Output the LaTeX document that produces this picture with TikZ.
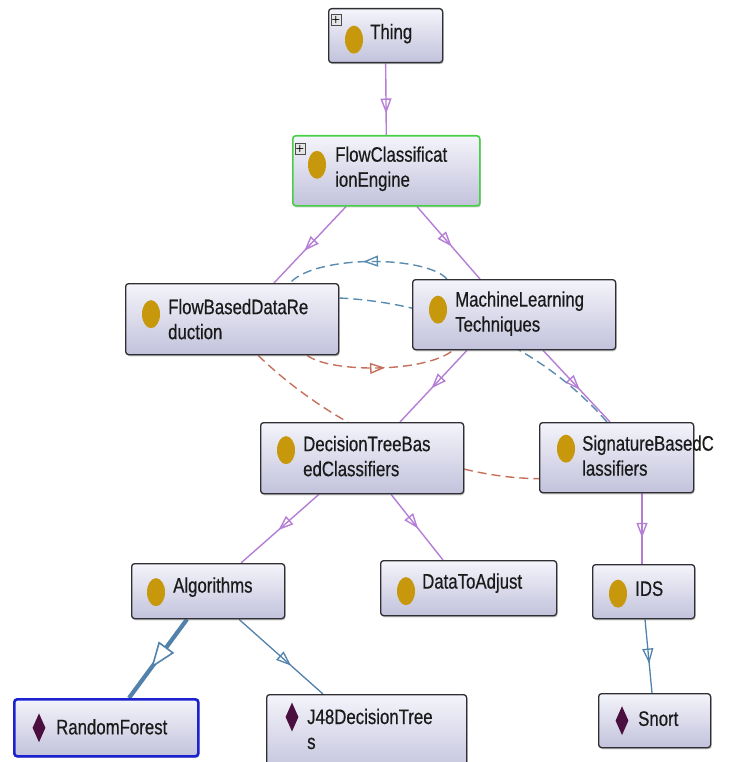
\documentclass[tikz,border=0pt]{standalone}
\usepackage{fontspec}
\newfontfamily\ogfont[FakeStretch=0.8, FakeBold=0.5]{Liberation Sans}
\usetikzlibrary{arrows.meta,decorations.markings,shadows,calc,backgrounds,shapes.geometric}

\definecolor{boxline}{HTML}{2E2E33}
\definecolor{boxtop}{HTML}{F4F4FB}
\definecolor{boxbot}{HTML}{C2C2DC}
\definecolor{gold}{HTML}{C8980C}
\definecolor{diac}{HTML}{4A0F3E}
\definecolor{txtc}{HTML}{1A1A1A}
\definecolor{isac}{HTML}{B47ED6}
\definecolor{instc}{HTML}{5282AC}
\definecolor{propblue}{HTML}{5A8CB0}
\definecolor{propred}{HTML}{C4705C}
\definecolor{selgreen}{HTML}{46D046}
\definecolor{selblue}{HTML}{1C22D0}

\tikzset{
  cls/.style={draw=boxline, line width=1.3pt, rounded corners=3pt,
    top color=boxtop, bottom color=boxbot, anchor=north west, inner sep=0pt,
    drop shadow={shadow xshift=1pt, shadow yshift=-1.6pt, opacity=0.45}},
  lbl/.style={anchor=west, font=\ogfont\fontsize{21}{25}\selectfont,
    text=txtc, align=left, inner sep=0pt},
  dot/.style={ellipse, fill=gold, minimum width=18pt, minimum height=28pt, inner sep=0pt},
  dia/.style={diamond, fill=diac, minimum width=13pt, minimum height=29pt, inner sep=0pt},
  plusbox/.style={draw=gray!60!black, fill=gray!20, minimum width=10pt,
    minimum height=11pt, inner sep=0pt, font=\sffamily\bfseries\fontsize{10}{10}\selectfont},
  tipmark/.style={postaction={decorate}, decoration={markings,
    mark=at position #1 with {\arrow{Triangle[open, length=15pt, width=11pt]}}}},
  isa/.style={draw=isac, line width=1.4pt, tipmark={#1}},
  isa/.default=0.55,
  inst/.style={draw=instc, line width=1.3pt, tipmark={#1}},
  inst/.default=0.6,
  bigtip/.style={postaction={decorate}, decoration={markings,
    mark=at position #1 with {\arrow[line width=1.6pt]{Triangle[fill=white, length=26pt, width=19pt]}}}},
  prop/.style={line width=1.4pt, dash pattern=on 9pt off 5pt},
}

\begin{document}
\begin{tikzpicture}[x=1pt,y=-1pt]
\clip (0,0) rectangle (735,762);

% ---- class boxes ----
\node[cls, minimum width=114pt, minimum height=54pt] (thing) at (328,8) {};
\node[cls, draw=selgreen, line width=1.6pt, minimum width=187pt, minimum height=70pt] (fce) at (292,135) {};
\node[cls, minimum width=213pt, minimum height=71pt] (fbdr) at (125,283) {};
\node[cls, minimum width=203pt, minimum height=70pt] (mlt) at (412,279) {};
\node[cls, minimum width=203pt, minimum height=71pt] (dtb) at (260,422) {};
\node[cls, minimum width=154pt, minimum height=70pt] (sig) at (539,422) {};
\node[cls, minimum width=153pt, minimum height=55pt] (alg) at (131,563) {};
\node[cls, minimum width=176pt, minimum height=55pt] (data) at (380,560) {};
\node[cls, minimum width=102pt, minimum height=54pt] (ids) at (592,564) {};
\node[cls, draw=selblue, line width=2.6pt, minimum width=184pt, minimum height=57pt] (rf) at (13,698) {};
\node[cls, minimum width=200pt, minimum height=80pt] (j48) at (266,694) {};
\node[cls, minimum width=112pt, minimum height=54pt] (snort) at (598,693) {};

% ---- icons ----
\node[dot] (thing-d) at ($(thing.west)+(26,4)$) {};
\node[dot] (fce-d) at ($(fce.west)+(25,-6)$) {};
\node[dot] (fbdr-d) at ($(fbdr.west)+(26,-5)$) {};
\node[dot] (mlt-d) at ($(mlt.west)+(26,-5)$) {};
\node[dot] (dtb-d) at ($(dtb.west)+(26,-8)$) {};
\node[dot] (sig-d) at ($(sig.west)+(27,-9)$) {};
\node[dot] (alg-d) at ($(alg.west)+(25,1)$) {};
\node[dot] (data-d) at ($(data.west)+(26,3)$) {};
\node[dot] (ids-d) at ($(ids.west)+(26,2)$) {};
\node[dia] (rf-d) at ($(rf.west)+(26,0)$) {};
\node[dia] (j48-d) at ($(j48.north west)+(26,23)$) {};
\node[dia] (snort-d) at ($(snort.west)+(24,0)$) {};

\node[plusbox] (thing-p) at ($(thing.north west)+(8,12)$) {+};
\node[plusbox] (fce-p) at ($(fce.north west)+(8,14)$) {+};

% ---- labels ----
\node[lbl] (thing-t) at ($(thing.west)+(42,-2)$) {Thing};
\node[lbl] (fce-t) at ($(fce.west)+(43,-2)$) {FlowClassificat\\ionEngine};
\node[lbl] (fbdr-t) at ($(fbdr.west)+(43,0)$) {FlowBasedDataRe\\duction};
\node[lbl] (mlt-t) at ($(mlt.west)+(43,-1)$) {MachineLearning\\Techniques};
\node[lbl] (dtb-t) at ($(dtb.west)+(43,-2)$) {DecisionTreeBas\\edClassifiers};
\node[lbl] (sig-t) at ($(sig.west)+(43,-2)$) {SignatureBasedC\\lassifiers};
\node[lbl] (alg-t) at ($(alg.west)+(42,-4)$) {Algorithms};
\node[lbl] (data-t) at ($(data.west)+(42,-5)$) {DataToAdjust};
\node[lbl] (ids-t) at ($(ids.west)+(43,-3)$) {IDS};
\node[lbl] (rf-t) at ($(rf.west)+(43,-1)$) {RandomForest};
\node[lbl] (j48-t) at ($(j48.north west)+(41,35)$) {J48DecisionTree\\s};
\node[lbl] (snort-t) at ($(snort.west)+(40,-2)$) {Snort};

% ---- connectors ----
\begin{scope}[on background layer]
  % subclass links
  \draw[isa=0.7] (thing.south) -- (fce.north);
  \draw[isa=0.58] ($(fce.south west)+(54,0)$) -- ($(fbdr.north west)+(149,0)$);
  \draw[isa=0.55] ($(fce.south west)+(125,0)$) -- ($(mlt.north west)+(68,0)$);
  \draw[isa=0.53] ($(mlt.south west)+(55,0)$) -- ($(dtb.north west)+(140,0)$);
  \draw[isa=0.55] ($(mlt.south west)+(131,0)$) -- ($(sig.north west)+(71,0)$);
  \draw[isa=0.63] ($(sig.south west)+(103,0)$) -- ($(ids.north west)+(50,0)$);
  \draw[isa=0.52] ($(dtb.south west)+(59,0)$) -- ($(alg.north west)+(110,0)$);
  \draw[isa=0.52] ($(dtb.south west)+(131,0)$) -- ($(data.north west)+(63,0)$);
  % individuals
  \draw[draw=instc, line width=4.2pt, bigtip=0.62]
    ($(alg.south west)+(56,0)$) -- ($(rf.north west)+(116,0)$);
  \draw[inst=0.62] ($(alg.south west)+(108,0)$) -- ($(j48.north west)+(57,0)$);
  \draw[inst=0.6] ($(ids.south west)+(53,0)$) -- ($(snort.north west)+(54,0)$);
  % object properties
  \draw[prop, draw=propblue, tipmark=0.53]
    ($(mlt.north west)+(35,0)$) .. controls (425,255) and (315,255) .. ($(fbdr.north west)+(165,0)$);
  \draw[prop, draw=propblue]
    ($(fbdr.north east)+(0,15)$) .. controls (440,303) and (540,345) .. ($(sig.north west)+(68,0)$);
  \draw[prop, draw=propred, tipmark=0.53]
    ($(fbdr.south west)+(182,0)$) .. controls (330,373) and (425,373) .. ($(mlt.south west)+(41,0)$);
  \draw[prop, draw=propred]
    ($(fbdr.south west)+(133,0)$) .. controls (330,425) and (440,478) .. ($(sig.west)+(0,21)$);
\end{scope}
\end{tikzpicture}
\end{document}
